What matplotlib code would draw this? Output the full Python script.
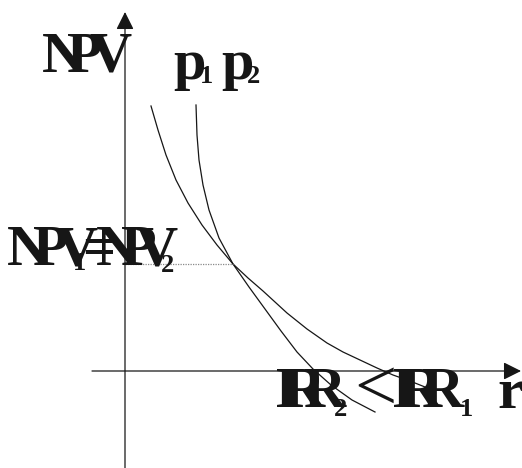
import matplotlib.pyplot as plt

# NPV profiles of two projects: discount rate r (%) against NPV
r_p1 = [2.6, 3.3, 4.1, 5.1, 6.3, 7.7, 9.2, 10.8, 12.3, 13.8, 16.2, 18.2,
        20.2, 21.8, 23.5, 25.2, 26.8, 28.5, 30.0]
npv_p1 = [132.5, 120.5, 108, 95.5, 84, 73, 63, 53.5, 46.5, 40, 29, 21,
          14, 9.5, 5.5, 1.5, -2, -5, -8]

r_p2 = [7.1, 7.2, 7.4, 7.8, 8.4, 9.4, 10.8, 12.4, 14.0, 15.6, 17.2, 18.8,
        20.6, 22.7, 25.0]
npv_p2 = [133, 118, 105.5, 93, 80.5, 66.5, 53.5, 42, 31, 20, 9.5, 1,
          -7, -14.5, -20.5]

# point where both profiles give the same NPV
r_cross = 10.8
npv_cross = 53.5

W, H = 522, 468
ink = "#161616"

fig = plt.figure(figsize=(W / 100, H / 100), dpi=100)
axe = fig.add_axes([0, 0, 1, 1])
axe.set_xlim(-12.5, 39.7)
axe.set_ylim(-48.5, 185.5)
axe.axis("off")

axe.plot(r_p1, npv_p1, color=ink, linewidth=0.9)
axe.plot(r_p2, npv_p2, color=ink, linewidth=0.9)
axe.plot([0, r_cross], [npv_cross, npv_cross], color="#8a8a8a",
         linestyle=(0, (1, 1)), linewidth=0.9)

# axes drawn by hand, with filled arrow heads
fleche = dict(arrowstyle="-|>,head_length=0.4,head_width=0.2",
              mutation_scale=27, color=ink, linewidth=0.9,
              shrinkA=0, shrinkB=0)
axe.annotate("", xy=(0, 179.5), xytext=(0, -48.5), arrowprops=fleche)
axe.annotate("", xy=(39.6, 0), xytext=(-3.3, 0), arrowprops=fleche)


def lettre(s, x, y, size, weight="bold"):
    # x, y in pixels from the top-left corner, y is the baseline
    fig.text(x / W, 1 - y / H, s, fontsize=size, fontweight=weight,
             family="Liberation Serif", ha="left", va="baseline", color=ink)


gros = 42
petit = 19

# axis names
for s, x in [("N", 42), ("P", 67), ("V", 89)]:
    lettre(s, x, 72, gros)
lettre("r", 497, 408, 42)

# project labels
lettre("p", 173, 79, 42)
lettre("1", 200, 83, petit)
lettre("p", 221, 79, 42)
lettre("2", 247, 83, petit)

# NPV1 = NPV2
for s, x in [("N", 7), ("P", 33), ("V", 55)]:
    lettre(s, x, 265, gros)
lettre("1", 73, 270, petit)
lettre("=", 82, 265, gros)
for s, x in [("N", 96), ("P", 121), ("V", 135)]:
    lettre(s, x, 265, gros)
lettre("2", 161, 272, petit)

# IRR2 < IRR1
for s, x in [("I", 275), ("R", 283), ("R", 304)]:
    lettre(s, x, 407, gros)
lettre("2", 334, 416, petit)
lettre("<", 354, 410, 54, weight="normal")
for s, x in [("I", 392), ("R", 400), ("R", 422)]:
    lettre(s, x, 407, gros)
lettre("1", 460, 416, petit)

fig.savefig("out.png", dpi=100)
